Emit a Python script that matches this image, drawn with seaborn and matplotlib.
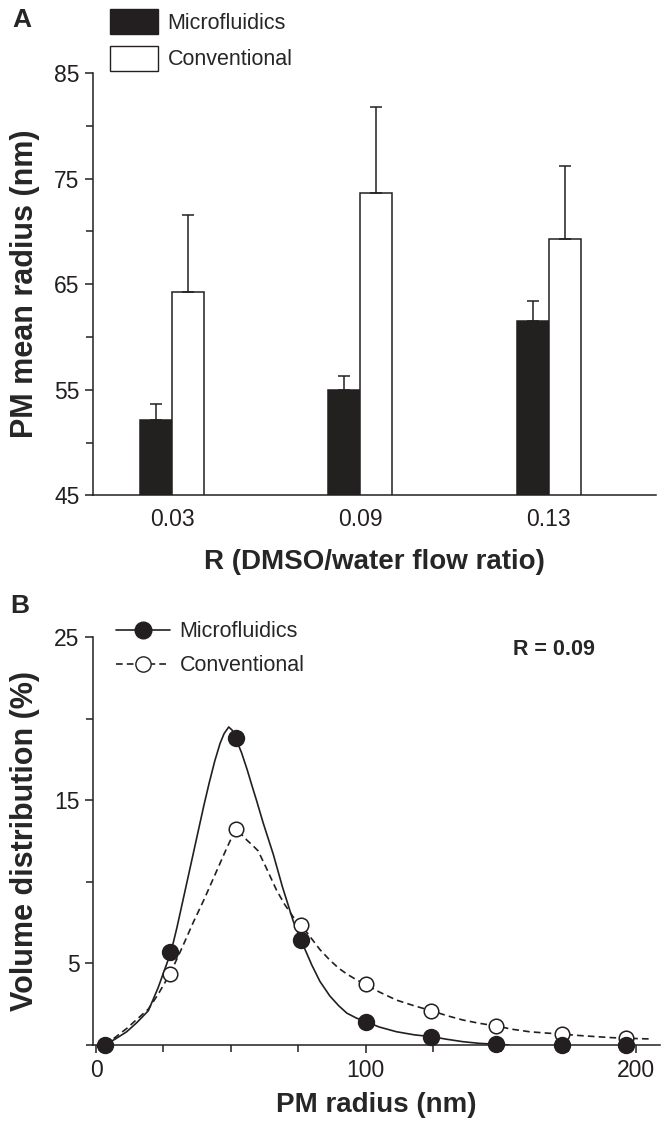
import matplotlib
matplotlib.use("Agg")
import matplotlib.pyplot as plt
from matplotlib.lines import Line2D
from matplotlib.patches import Patch
from matplotlib.ticker import MultipleLocator
import numpy as np
import pandas as pd
import seaborn as sns

# panel A - PM mean radius vs flow ratio
ratios = ['0.03', '0.09', '0.13']
micro_mean = [52.1, 55.0, 61.5]
micro_err = [1.6, 1.35, 1.9]
conv_mean = [64.3, 73.6, 69.3]
conv_err = [7.25, 8.2, 6.9]

# panel B - volume distribution at R = 0.09 (measured points)
radius = [3.5, 27.6, 51.8, 76.0, 100.0, 124.2, 148.4, 172.6, 196.6]
micro_vol = [0.0, 5.7, 18.85, 6.42, 1.43, 0.51, 0.04, 0.0, 0.0]
conv_vol = [0.0, 4.38, 13.24, 7.33, 3.71, 2.1, 1.16, 0.67, 0.41]

# fitted curves as drawn in the figure
micro_fit_x = [3.3, 7, 11.3, 15, 19.4, 23, 27.8, 30, 32, 34, 36, 38, 40, 42, 44, 46, 47.5,
               49.2, 50.5, 51.7, 54, 56, 58, 59.5, 62, 65.7, 69.1, 73.1, 76, 80, 83, 86.7,
               90, 93, 96.5, 100, 105, 111.4, 118, 124.3, 130, 136, 142, 148.6, 153]
micro_fit_y = [0, 0.35, 0.8, 1.35, 2.1, 3.5, 5.7, 7.2, 8.7, 10.2, 11.7, 13.2, 14.7, 16.1,
               17.4, 18.5, 19.1, 19.5, 19.3, 18.85, 17.9, 16.9, 15.8, 15.0, 13.6, 11.7, 9.7,
               7.6, 6.42, 4.9, 3.9, 3.0, 2.4, 1.95, 1.65, 1.43, 1.1, 0.81, 0.62, 0.51, 0.35,
               0.2, 0.1, 0.04, 0.0]
conv_fit_x = [3.3, 7, 11.3, 15, 19.4, 23, 27.5, 32, 36, 40, 44, 48, 50.5, 51.85, 54, 56, 58,
              60.1, 63, 66.9, 70, 73.1, 76.2, 80, 83, 86.7, 90, 93, 96.5, 100, 105, 111.4,
              118, 124.3, 130, 136, 142, 148.6, 154, 160.7, 166, 172.5, 179, 185.4, 191,
              196.5, 205]
conv_fit_y = [0, 0.45, 1.0, 1.55, 2.2, 3.1, 4.38, 6.0, 7.5, 8.9, 10.4, 11.9, 12.8, 13.24,
              12.9, 12.55, 12.25, 11.9, 10.9, 9.5, 8.6, 7.85, 7.33, 6.5, 5.85, 5.2, 4.7,
              4.35, 4.0, 3.71, 3.25, 2.75, 2.4, 2.1, 1.8, 1.53, 1.33, 1.16, 0.97, 0.81, 0.74,
              0.67, 0.58, 0.51, 0.45, 0.41, 0.37]

ink = '#231f20'
sns.set_style('ticks')
plt.rcParams['font.family'] = ['Liberation Sans', 'DejaVu Sans']
plt.rcParams['axes.linewidth'] = 1.1
plt.rcParams['axes.edgecolor'] = ink
plt.rcParams['xtick.color'] = ink
plt.rcParams['ytick.color'] = ink

fig = plt.figure(figsize=(6.68, 11.23), dpi=100)
axA = fig.add_axes([0.1397, 0.5588, 0.842, 0.3762])
axB = fig.add_axes([0.1397, 0.0695, 0.848, 0.363])

# ---- A ----
dfA = pd.DataFrame({
    'R': ratios * 2,
    'method': ['Microfluidics'] * 3 + ['Conventional'] * 3,
    'radius': micro_mean + conv_mean,
})
sns.barplot(data=dfA, x='R', y='radius', hue='method', ax=axA,
            palette={'Microfluidics': ink, 'Conventional': 'white'},
            edgecolor=ink, linewidth=1.1, width=0.34, gap=0, legend=False)
for cont, errs in zip(axA.containers, [micro_err, conv_err]):
    xs = [p.get_x() + p.get_width() / 2 for p in cont.patches]
    ys = [p.get_height() for p in cont.patches]
    axA.errorbar(xs, ys, yerr=[np.zeros(len(errs)), errs], fmt='none',
                 ecolor=ink, elinewidth=1.1, capsize=4, capthick=1.1, zorder=1)
axA.set_ylim(45, 85)
axA.set_xlim(-0.42, 2.57)
axA.yaxis.set_major_locator(MultipleLocator(10, offset=5))
axA.yaxis.set_minor_locator(MultipleLocator(5))
axA.tick_params(axis='y', which='major', length=6, width=1.1, labelsize=16.5, pad=4)
axA.tick_params(axis='y', which='minor', length=5, width=1.1)
axA.tick_params(axis='x', length=0, labelsize=16.5, pad=9)
axA.set_xlabel('R (DMSO/water flow ratio)', fontsize=20, fontweight='bold', labelpad=13)
axA.set_ylabel('PM mean radius (nm)', fontsize=22, fontweight='bold', labelpad=10)
sns.despine(ax=axA)
handlesA = [Patch(facecolor=ink, edgecolor=ink, label='Microfluidics'),
            Patch(facecolor='white', edgecolor=ink, label='Conventional')]
axA.legend(handles=handlesA, loc='lower left', bbox_to_anchor=(0.015, 0.985),
           frameon=False, fontsize=15.5, handlelength=2.2, handleheight=1.4,
           labelspacing=0.55, handletextpad=0.45, borderaxespad=0)
fig.text(0.018, 0.982, 'A', fontsize=19, fontweight='bold', va='center')

# ---- B ----
sns.lineplot(x=micro_fit_x, y=micro_fit_y, ax=axB, color=ink, lw=1.2, sort=False)
sns.lineplot(x=conv_fit_x, y=conv_fit_y, ax=axB, color=ink, lw=1.2, sort=False,
             linestyle=(0, (4, 2.5)))
sns.scatterplot(x=radius, y=conv_vol, ax=axB, s=110, color='white', edgecolor=ink,
                linewidth=1.1, zorder=3, clip_on=False)
sns.scatterplot(x=radius, y=micro_vol, ax=axB, s=130, color=ink, edgecolor=ink,
                linewidth=1.1, zorder=4, clip_on=False)
axB.set_xlim(-1, 209)
axB.set_ylim(0, 25)
axB.xaxis.set_major_locator(MultipleLocator(100))
axB.xaxis.set_minor_locator(MultipleLocator(25))
axB.yaxis.set_major_locator(MultipleLocator(10, offset=5))
axB.yaxis.set_minor_locator(MultipleLocator(5))
axB.tick_params(which='major', length=6, width=1.1, labelsize=16.5, pad=4)
axB.tick_params(which='minor', length=5, width=1.1)
axB.set_xlabel('PM radius (nm)', fontsize=20, fontweight='bold', labelpad=7)
axB.set_ylabel('Volume distribution (%)', fontsize=22, fontweight='bold', labelpad=10)
sns.despine(ax=axB)
handlesB = [Line2D([], [], color=ink, lw=1.2, marker='o', markersize=12,
                   markerfacecolor=ink, label='Microfluidics'),
            Line2D([], [], color=ink, lw=1.2, ls=(0, (4, 2.5)), marker='o', markersize=11,
                   markerfacecolor='white', label='Conventional')]
axB.legend(handles=handlesB, loc='upper left', bbox_to_anchor=(0.025, 1.06),
           frameon=False, fontsize=15.5, handlelength=2.5, handletextpad=0.45,
           labelspacing=0.6, borderaxespad=0)
axB.text(0.813, 0.97, 'R = 0.09', transform=axB.transAxes, fontsize=15.5,
         fontweight='bold', ha='center', va='center')
fig.text(0.015, 0.46, 'B', fontsize=19, fontweight='bold', va='center')

fig.savefig('out.png', dpi=100)
